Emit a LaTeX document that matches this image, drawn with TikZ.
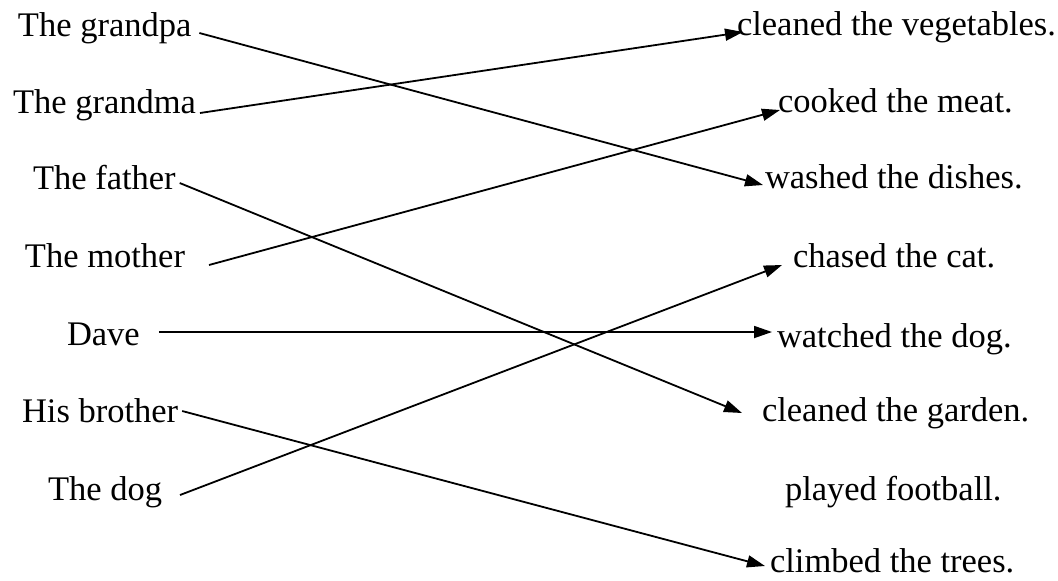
\documentclass[tikz,border=0pt]{standalone}
\usepackage{fontspec}
\setmainfont{Liberation Serif}
\usetikzlibrary{arrows.meta}
\begin{document}
\begin{tikzpicture}[x=0.5pt,y=-0.5pt,
  lbl/.style={inner sep=0pt,outer sep=0pt,anchor=base west,font=\fontsize{17.25}{20}\selectfont},
  link/.style={line width=0.9pt,-{Triangle[length=9pt,width=6pt]}}]
\useasboundingbox (0,0) rectangle (1058,580);
% left column
\node[lbl] (gp) at (18,36)  {The grandpa};
\node[lbl] (gm) at (13,113) {The grandma};
\node[lbl] (fa) at (33,189) {The father};
\node[lbl] (mo) at (25,267) {The mother};
\node[lbl] (dv) at (67,345) {Dave};
\node[lbl] (hb) at (22,422) {His brother};
\node[lbl] (dg) at (48,500) {The dog};
% right column
\node[lbl] (veg) at (737,35)  {cleaned the vegetables.};
\node[lbl] (mt)  at (778,112) {cooked the meat.};
\node[lbl] (ds)  at (765,188) {washed the dishes.};
\node[lbl] (ct)  at (793,267) {chased the cat.};
\node[lbl] (wd)  at (777,347) {watched the dog.};
\node[lbl] (gd)  at (762,421) {cleaned the garden.};
\node[lbl] (fb)  at (785,500) {played football.};
\node[lbl] (tr)  at (770,572) {climbed the trees.};
% connectors
\draw[link] ([shift={(8,-3)}]gp.base east)  -- ([shift={(-2,-3)}]ds.base west);
\draw[link] ([shift={(4,0)}]gm.base east)   -- ([shift={(6,-3)}]veg.base west);
\draw[link] ([shift={(4,-6)}]fa.base east)  -- ([shift={(-20,-8)}]gd.base west);
\draw[link] ([shift={(24,-2)}]mo.base east) -- ([shift={(2,-2)}]mt.base west);
\draw[link] ([shift={(19,-13)}]dv.base east) -- ([shift={(-5,-15)}]wd.base west);
\draw[link] ([shift={(4,-11)}]hb.base east) -- ([shift={(-5,-6)}]tr.base west);
\draw[link] ([shift={(18,-5)}]dg.base east) -- ([shift={(-11,-2)}]ct.base west);
\end{tikzpicture}
\end{document}
